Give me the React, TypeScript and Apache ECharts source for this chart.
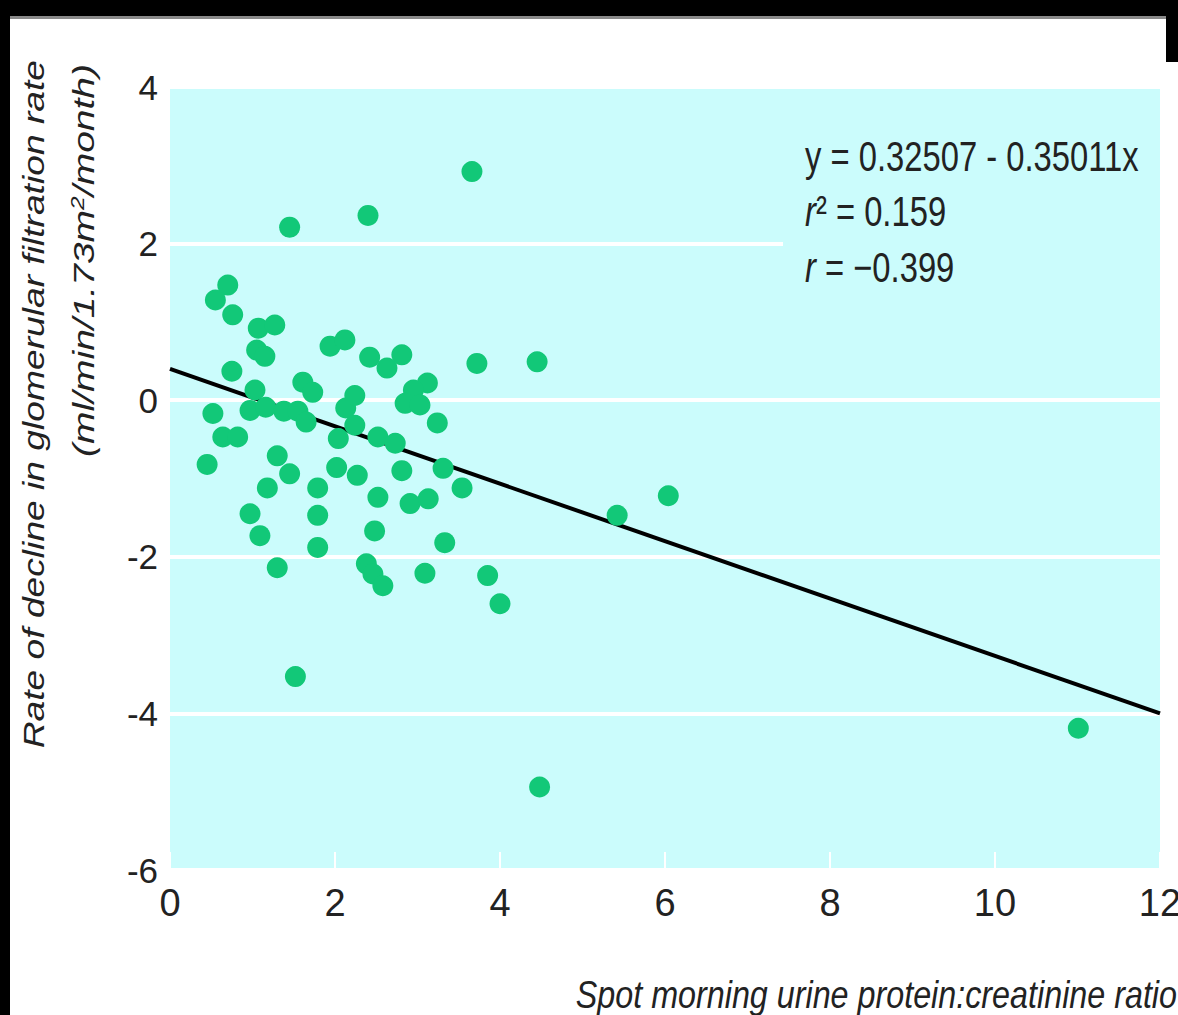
import React, { useEffect, useRef } from "react";
import * as echarts from "echarts";

// Data
const xValues = [
  3.66, 2.40, 1.45, 0.70, 0.55, 0.76, 1.07, 1.27, 1.05, 1.15,
  1.94, 2.12, 2.42, 2.81, 2.63, 3.72, 4.45, 0.75, 1.61, 1.73,
  1.03, 0.97, 1.16, 1.38, 1.55, 1.65, 0.52, 0.64, 0.82, 0.45,
  1.30, 1.45, 1.18, 0.97, 1.09, 1.30, 1.79, 1.79, 1.79, 2.02,
  2.27, 2.04, 2.13, 2.24, 2.24, 2.52, 2.73, 3.12, 2.95, 2.85,
  3.03, 3.24, 2.52, 2.48, 2.38, 2.46, 2.58, 2.81, 2.91, 3.13,
  3.09, 3.33, 3.31, 3.54, 3.85, 4.00, 1.52, 5.42, 6.04, 4.48,
  11.01,
];
const yValues = [
  2.92, 2.36, 2.21, 1.47, 1.28, 1.09, 0.92, 0.96, 0.64, 0.56,
  0.69, 0.77, 0.55, 0.58, 0.41, 0.47, 0.49, 0.37, 0.23, 0.10,
  0.13, -0.13, -0.09, -0.14, -0.14, -0.28, -0.17, -0.47, -0.47, -0.82,
  -0.71, -0.94, -1.12, -1.45, -1.73, -2.14, -1.12, -1.47, -1.88, -0.86,
  -0.96, -0.49, -0.10, 0.06, -0.32, -0.47, -0.55, 0.22, 0.13, -0.04,
  -0.06, -0.29, -1.24, -1.67, -2.09, -2.22, -2.37, -0.90, -1.32, -1.26,
  -2.21, -1.82, -0.87, -1.12, -2.24, -2.60, -3.53, -1.47, -1.22, -4.94,
  -4.19,
];
const fitLineX = [0, 12];
const fitLineY = [0.4, -4.0];

const xAxisTitle = "Spot morning urine protein:creatinine ratio";
const yAxisTitle1 = "Rate of decline in glomerular filtration rate";
const equationText = "y = 0.32507 - 0.35011x";
const r2Value = "0.159";
const rValue = "\u22120.399";

const SANS = '"Liberation Sans", Arial, Helvetica, sans-serif';
const TEXT = "#222222";
const BG = "#cbfcfc";

export default function App() {
  const ref = useRef<HTMLDivElement>(null);
  useEffect(() => {
    if (!ref.current) return;
    const chart = echarts.init(ref.current, undefined, { renderer: "svg" });
    const points = xValues.map((x, i) => [x, yValues[i]]);
    const fit = fitLineX.map((x, i) => [x, fitLineY[i]]);
    const richRow = (rest: string) => ({
      text: `{i|r}{n|${rest}}`,
      fill: TEXT,
      verticalAlign: "middle",
      align: "left",
      rich: {
        i: { fontFamily: SANS, fontSize: 42, fontStyle: "italic", fill: TEXT },
        n: { fontFamily: SANS, fontSize: 42, fill: TEXT },
      },
    });
    chart.setOption({
      animation: false,
      backgroundColor: "#ffffff",
      grid: {
        left: 170,
        top: 87,
        width: 990,
        height: 783,
        show: true,
        backgroundColor: BG,
        borderWidth: 0,
        outerBoundsMode: "none",
        containLabel: false,
      },
      xAxis: {
        type: "value",
        min: 0,
        max: 12,
        interval: 2,
        axisLine: { show: false, onZero: false },
        axisTick: { show: true, inside: true, length: 18, lineStyle: { color: "#ffffff", width: 2 } },
        splitLine: { show: false },
        axisLabel: { fontFamily: SANS, fontSize: 38, color: TEXT, margin: 14 },
      },
      yAxis: {
        type: "value",
        min: -6,
        max: 4,
        interval: 2,
        axisLine: { show: false, onZero: false },
        axisTick: { show: false },
        splitLine: { show: true, lineStyle: { color: "#ffffff", width: 4 } },
        axisLabel: { fontFamily: SANS, fontSize: 35, color: TEXT, margin: 12 },
      },
      graphic: [
        { type: "rect", shape: { x: 0, y: 0, width: 1178, height: 16 }, style: { fill: "#000000" }, z: 100 },
        { type: "rect", shape: { x: 0, y: 16, width: 1178, height: 3 }, style: { fill: "#8a8a8a" }, z: 100 },
        { type: "rect", shape: { x: 0, y: 0, width: 10, height: 1015 }, style: { fill: "#000000" }, z: 100 },
        { type: "rect", shape: { x: 1166, y: 0, width: 12, height: 62 }, style: { fill: "#000000" }, z: 100 },
        // annotation box (hides the gridline behind the text)
        { type: "rect", shape: { x: 783, y: 232, width: 377, height: 22 }, style: { fill: BG }, z: 5 },
        {
          type: "text", x: 805, y: 157, z: 10, scaleX: 0.78,
          style: { text: equationText, font: `42px ${SANS}`, fill: TEXT, verticalAlign: "middle", align: "left" },
        },
        { type: "text", x: 805, y: 212, z: 10, scaleX: 0.78, style: richRow(`\u00b2 = ${r2Value}`) },
        { type: "text", x: 805, y: 268, z: 10, scaleX: 0.78, style: richRow(` = ${rValue}`) },
        {
          type: "text", x: 1177, y: 995, z: 10, scaleX: 0.85,
          style: { text: xAxisTitle, font: `italic 38px ${SANS}`, fill: TEXT, align: "right", verticalAlign: "middle" },
        },
        {
          type: "text", x: 33, y: 60, rotation: Math.PI / 2, z: 10, scaleX: 1.24,
          style: { text: yAxisTitle1, font: `italic 30px ${SANS}`, fill: TEXT, align: "right", verticalAlign: "middle" },
        },
        {
          type: "text", x: 84, y: 64, rotation: Math.PI / 2, z: 10, scaleX: 1.3,
          style: {
            text: "{a|(ml/min/1.73m}{s|2}{a|/month)}",
            fill: TEXT, align: "right", verticalAlign: "middle",
            rich: {
              a: { fontFamily: SANS, fontSize: 30, fontStyle: "italic", fill: TEXT },
              s: { fontFamily: SANS, fontSize: 19, fontStyle: "italic", fill: TEXT, verticalAlign: "top", padding: [0, 0, 12, 0] },
            },
          },
        },
      ],
      series: [
        {
          type: "line",
          data: fit,
          symbol: "none",
          lineStyle: { color: "#000000", width: 4 },
          z: 2,
        },
        {
          type: "scatter",
          data: points,
          symbol: "circle",
          symbolSize: 21,
          itemStyle: { color: "#12c878", opacity: 1 },
          z: 3,
        },
      ],
    });
    return () => chart.dispose();
  }, []);
  return (
    <div
      ref={ref}
      style={{ position: "fixed", left: 0, top: 0, width: 1178, height: 1015, background: "#fff" }}
    />
  );
}
